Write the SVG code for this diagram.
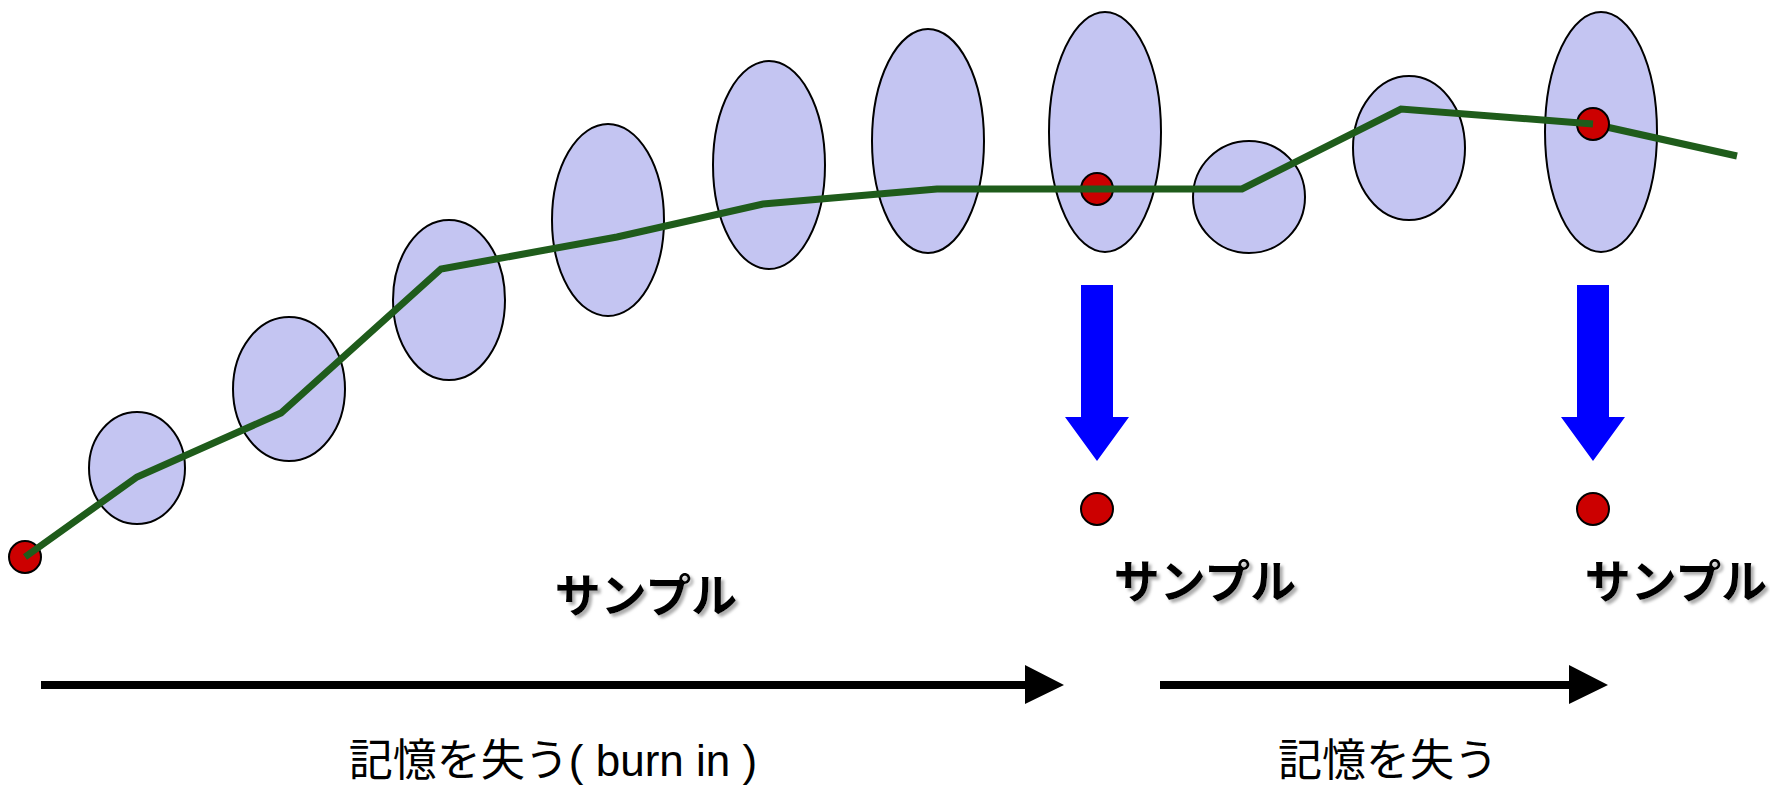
<svg xmlns="http://www.w3.org/2000/svg" width="1770" height="787" viewBox="0 0 1770 787">
<style>
.st{fill:#c4c5f2;stroke:#000;stroke-width:2}
.dot{fill:#cc0000;stroke:#000;stroke-width:2}
.path{fill:none;stroke:#1f5c1b;stroke-width:7;stroke-linejoin:miter}
.blue{fill:#0000ff}
.blk{fill:#000}
.lbl{font-family:"Liberation Sans","Noto Sans CJK JP",sans-serif;font-size:46px;font-weight:bold;fill:#000;text-anchor:middle}
.cap{font-family:"Liberation Sans","Noto Sans CJK JP",sans-serif;font-size:44px;fill:#000;text-anchor:middle}
</style>
<defs>
<filter id="sh" x="-10%" y="-20%" width="130%" height="150%">
<feDropShadow dx="3" dy="3" stdDeviation="1.5" flood-color="#999" flood-opacity="0.8"/>
</filter>
</defs>
<g id="states">
<ellipse id="s1" class="st" cx="137" cy="468" rx="48" ry="56"/>
<ellipse id="s2" class="st" cx="289" cy="389" rx="56" ry="72"/>
<ellipse id="s3" class="st" cx="449" cy="300" rx="56" ry="80"/>
<ellipse id="s4" class="st" cx="608" cy="220" rx="56" ry="96"/>
<ellipse id="s5" class="st" cx="769" cy="165" rx="56" ry="104"/>
<ellipse id="s6" class="st" cx="928" cy="141" rx="56" ry="112"/>
<ellipse id="s7" class="st" cx="1105" cy="132" rx="56" ry="120"/>
<ellipse id="s8" class="st" cx="1249" cy="197" rx="56" ry="56"/>
<ellipse id="s9" class="st" cx="1409" cy="148" rx="56" ry="72"/>
<ellipse id="s10" class="st" cx="1601" cy="132" rx="56" ry="120"/>
</g>
<g id="connectors">
<polyline class="path" points="1593,124 1737,156"/>
</g>
<g id="samples">
<circle id="p0" class="dot" cx="25" cy="557" r="16"/>
<circle id="p1" class="dot" cx="1097" cy="189" r="16"/>
<circle id="p2" class="dot" cx="1593" cy="124" r="16"/>
<circle id="q1" class="dot" cx="1097" cy="509" r="16"/>
<circle id="q2" class="dot" cx="1593" cy="509" r="16"/>
</g>
<g id="chain">
<polyline class="path" points="25,557 137,477 281,413 441,269 617,237 763,204 937,189 1097,189 1242,189 1401,109 1593,124"/>
</g>
<g id="arrows">
<path class="blue" d="M1081,285 H1113 V417 H1129 L1097,461 L1065,417 H1081 Z"/>
<path class="blue" d="M1577,285 H1609 V417 H1625 L1593,461 L1561,417 H1577 Z"/>
<path class="blk" d="M41,681 H1025 V665 L1064,685 L1025,704 V689 H41 Z"/>
<path class="blk" d="M1160,681 H1569 V665 L1608,685 L1569,704 V689 H1160 Z"/>
</g>
<g id="labels">
<text class="lbl" x="646" y="612" filter="url(#sh)">サンプル</text>
<text class="lbl" x="1205" y="598" filter="url(#sh)">サンプル</text>
<text class="lbl" x="1676" y="598" filter="url(#sh)">サンプル</text>
<text class="cap" x="553" y="776">記憶を失う( burn in )</text>
<text class="cap" x="1388" y="776">記憶を失う</text>
</g>
</svg>
